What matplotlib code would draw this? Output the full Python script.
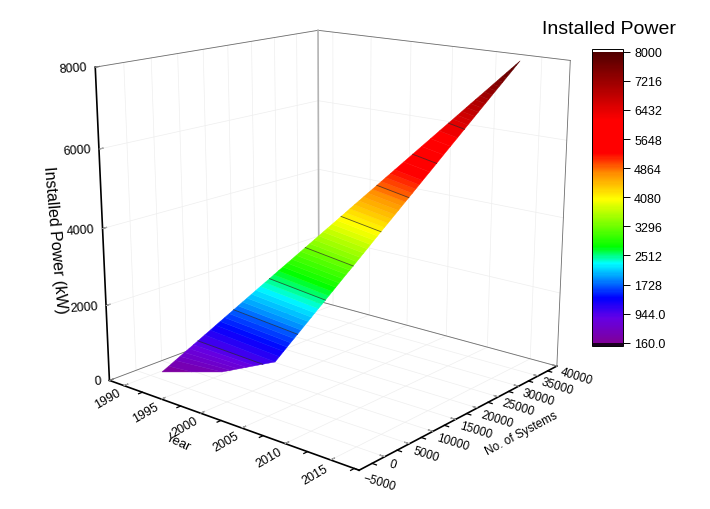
import matplotlib
matplotlib.use('Agg')
import matplotlib.pyplot as plt
from matplotlib.colors import LinearSegmentedColormap, Normalize
from matplotlib.cm import ScalarMappable
import numpy as np

# Data
power = [160, 305, 450, 552, 650, 748, 846, 944, 1093, 1214, 1336, 1434, 1532, 1630, 1728, 1826, 1924, 2022, 2120,
         2218, 2316, 2414, 2512, 2610, 2708, 2806, 2904, 3002, 3100, 3198, 3296, 3394, 3492, 3590, 3688, 3786,
         3884, 3982, 4080, 4178, 4276, 4374, 4472, 4570, 4668, 4766, 4864, 4962, 5060, 5158, 5256, 5452, 5648,
         5844, 6040, 6236, 6432, 6530, 6628, 6726, 6824, 6922, 7020, 7118, 7216, 7314, 7412, 7510, 7608, 7706,
         7804, 7902, 8000]
year_left = [1991.30, 1991.71, 1992.12, 1992.41, 1992.69, 1992.97, 1993.25, 1993.53, 1993.95, 1994.30, 1994.64,
             1994.92, 1995.20, 1995.48, 1995.76, 1996.04, 1996.32, 1996.60, 1996.88, 1997.16, 1997.44, 1997.73,
             1998.01, 1998.29, 1998.57, 1998.86, 1999.14, 1999.43, 1999.71, 2000.00, 2000.28, 2000.57, 2000.85,
             2001.14, 2001.42, 2001.71, 2002.00, 2002.29, 2002.57, 2002.86, 2003.14, 2003.43, 2003.72, 2004.01,
             2004.30, 2004.60, 2004.89, 2005.18, 2005.47, 2005.77, 2006.06, 2006.65, 2007.24, 2007.84, 2008.44,
             2009.04, 2009.65, 2009.96, 2010.26, 2010.57, 2010.87, 2011.18, 2011.49, 2011.81, 2012.12, 2012.44,
             2012.75, 2013.07, 2013.38, 2013.71, 2014.03, 2014.36, 2014.68]
systems_left = [424, 1149, 1871, 2378, 2864, 3350, 3836, 4322, 5056, 5655, 6254, 6734, 7214, 7694, 8174, 8651, 9127,
                9604, 10080, 10553, 11026, 11499, 11972, 12441, 12909, 13378, 13847, 14311, 14775, 15240, 15704,
                16163, 16622, 17082, 17541, 17995, 18448, 18902, 19355, 19802, 20249, 20697, 21144, 21584, 22024,
                22464, 22904, 23336, 23768, 24200, 24632, 25477, 26323, 27147, 27971, 28771, 29571, 29957, 30342,
                30728, 31114, 31483, 31852, 32222, 32591, 32941, 33290, 33640, 33989, 34315, 34641, 34967, 35293]
year_right = [1991.30, 1994.41, 1997.52, 1998.50, 1999.44, 2000.38, 2001.32, 2002.26, 2003.68, 2003.88, 2004.08,
              2004.24, 2004.40, 2004.57, 2004.73, 2004.89, 2005.05, 2005.22, 2005.38, 2005.54, 2005.70, 2005.87,
              2006.03, 2006.19, 2006.35, 2006.51, 2006.67, 2006.83, 2006.99, 2007.16, 2007.32, 2007.48, 2007.64,
              2007.80, 2007.96, 2008.12, 2008.27, 2008.43, 2008.59, 2008.75, 2008.91, 2009.07, 2009.23, 2009.39,
              2009.54, 2009.70, 2009.86, 2010.02, 2010.17, 2010.33, 2010.48, 2010.80, 2011.11, 2011.41, 2011.72,
              2012.03, 2012.33, 2012.48, 2012.63, 2012.78, 2012.93, 2013.08, 2013.23, 2013.38, 2013.52, 2013.67,
              2013.82, 2013.97, 2014.11, 2014.26, 2014.40, 2014.54, 2014.68]
systems_right = [424, 1685, 2946, 3089, 3200, 3311, 3423, 3534, 3658, 4188, 4718, 5147, 5575, 6004, 6432, 6862, 7291,
                 7721, 8151, 8582, 9013, 9445, 9876, 10309, 10741, 11174, 11607, 12042, 12476, 12911, 13345, 13782,
                 14218, 14655, 15091, 15530, 15968, 16407, 16846, 17287, 17728, 18169, 18610, 19054, 19498, 19943,
                 20387, 20834, 21281, 21729, 22176, 23078, 23980, 24890, 25801, 26721, 27642, 28108, 28574, 29041,
                 29507, 29980, 30453, 30927, 31400, 31882, 32363, 32845, 33326, 33818, 34309, 34801, 35293]

contour_levels = [944, 1728, 2512, 3296, 4080, 4864, 5648, 6432]
bar_ticks = [160, 944, 1728, 2512, 3296, 4080, 4864, 5648, 6432, 7216, 8000]
bar_labels = ['160.0', '944.0', '1728', '2512', '3296', '4080', '4864', '5648', '6432', '7216', '8000']

year_lim = (1988, 2018)
systems_lim = (-5000, 40000)
power_lim = (0, 8000)
year_ticks = [1990, 1995, 2000, 2005, 2010, 2015]
year_minor = [1992.5, 1997.5, 2002.5, 2007.5, 2012.5, 2017.5]
systems_ticks = [-5000, 0, 5000, 10000, 15000, 20000, 25000, 30000, 35000, 40000]
systems_minor = [-2500, 2500, 7500, 12500, 17500, 22500, 27500, 32500, 37500]
power_ticks = [0, 2000, 4000, 6000, 8000]

cmap_levels = [160, 280, 820, 1353, 2290, 2735, 4025, 4735, 5270, 6165, 8000]
cmap_colors = ['#80009a', '#7a00a8', '#6400e6', '#0000ff', '#00ffff', '#00ff00',
               '#ffff00', '#ff8c00', '#ff0000', '#ff0000', '#500000']

plt.rcParams['font.family'] = 'Liberation Sans'

norm = Normalize(160, 8000)
stops = [(v - 160) / 7840 for v in cmap_levels]
cmap = LinearSegmentedColormap.from_list('power', list(zip(stops, cmap_colors)), N=256)
cmap.set_over('white')
cmap.set_under('#1a0020')

W, H = 710, 510
fig = plt.figure(figsize=(W / 100, H / 100), dpi=100)

# Graphing
ax = fig.add_axes([55.4 / W, 5.3 / H, 546.5 / W, 546.5 / H], projection='3d')
ax.set_facecolor('none')
ax.computed_zorder = False
ax.view_init(elev=15.62, azim=-49.99)
ax.set_proj_type('persp', focal_length=0.489)
ax.set_box_aspect((1, 0.999, 0.981))
ax.set_xlim(*year_lim)
ax.set_ylim(*systems_lim)
ax.set_zlim(*power_lim)
ax.grid(False)

x0, x1 = year_lim
y0, y1 = systems_lim
z0, z1 = power_lim

# faint grid at the major ticks only, not over the black axes
grid = dict(color='#eeeeee', lw=0.5, zorder=0)
for x in year_ticks:
    ax.plot([x, x], [y0, y1], [z0, z0], **grid)
    ax.plot([x, x], [y1, y1], [z0, z1], **grid)
for y in systems_ticks:
    if y == y0:
        continue
    ax.plot([x0, x1], [y, y], [z0, z0], **grid)
    ax.plot([x0, x0], [y, y], [z0, z1], **grid)
for z in power_ticks:
    ax.plot([x0, x1], [y1, y1], [z, z], **grid)
    ax.plot([x0, x0], [y0, y1], [z, z], **grid)

# box edges behind the surface
edge = dict(color='#6e6e6e', lw=0.6, zorder=1)
ax.plot([x0, x0], [y0, y1], [z0, z0], **edge)
ax.plot([x0, x1], [y1, y1], [z0, z0], **edge)
ax.plot([x0, x0], [y0, y1], [z1, z1], **edge)
ax.plot([x0, x1], [y1, y1], [z1, z1], **edge)
ax.plot([x1, x1], [y1, y1], [z0, z1], **edge)
ax.plot([x0, x0], [y1, y1], [z0, z1], color='#b4b4b4', lw=1.2, zorder=1)

X = np.array([year_left, year_right]).T
Y = np.array([systems_left, systems_right]).T
Z = np.array([power, power]).T
surf = ax.plot_surface(X, Y, Z, cmap=cmap, norm=norm, rstride=1, cstride=1, shade=False,
                       linewidth=0.3, antialiased=True, zorder=3)
surf.set_edgecolor('face')

for lev in contour_levels:
    i = power.index(lev)
    ax.plot(X[i], Y[i], Z[i], color='#202020', lw=0.6, alpha=0.7, zorder=4)

# short minor ticks on the two floor axes
for x in year_minor:
    ax.plot([x, x], [y0, y0 - 700], [z0, z0], color='black', lw=0.9, zorder=2)
for y in systems_minor:
    ax.plot([x1, x1 + 0.45], [y, y], [z0, z0], color='black', lw=0.9, zorder=2)

# Graph UI
ax.set_xticks(year_ticks)
ax.set_yticks(systems_ticks)
ax.set_zticks(power_ticks)
ax.zaxis.set_ticks_position('lower')

ax.tick_params(axis='x', labelsize=9, labelrotation=30, pad=-4.8)
ax.tick_params(axis='y', labelsize=8.5, labelrotation=-17, pad=-5)
ax.tick_params(axis='z', labelsize=9, labelrotation=4, pad=-4.5)

for axis in (ax.xaxis, ax.yaxis, ax.zaxis):
    axis.set_pane_color((1, 1, 1, 0))
    axis.pane.set_edgecolor((1, 1, 1, 0))
    axis.line.set_color('black')
    axis.line.set_linewidth(1.2)
    axis._axinfo['tick']['inward_factor'] = 0
    axis._axinfo['tick']['outward_factor'] = 0.2

for lab in ax.get_xticklabels():
    lab.set(ha='right', va='center', rotation_mode='anchor')
for lab in ax.get_yticklabels():
    lab.set(ha='left', va='center', rotation_mode='anchor')
for lab in ax.get_zticklabels():
    lab.set(ha='right', va='center', rotation_mode='anchor')

fig.text(178 / W, 1 - 443 / H, 'Year', fontsize=9.5, rotation=-25, ha='center', va='center')
fig.text(521 / W, 1 - 434 / H, 'No. of Systems', fontsize=8.5, rotation=28, ha='center', va='center')
fig.text(55 / W, 1 - 240 / H, 'Installed Power (kW)', fontsize=11.5, rotation=-85, ha='center', va='center')

# Colour bar
cax = fig.add_axes([592 / W, 163 / H, 31 / W, 297.5 / H])
cbar = fig.colorbar(ScalarMappable(norm=norm, cmap=cmap), cax=cax, extend='both', extendrect=True,
                    extendfrac=0.011, ticks=bar_ticks)
cbar.ax.set_yticklabels(bar_labels)
cbar.ax.tick_params(labelsize=9, length=5, width=0.7, pad=3)
cbar.ax.minorticks_off()
cbar.outline.set_linewidth(0.7)
fig.text(608.5 / W, 1 - 30 / H, 'Installed Power', fontsize=14, ha='center', va='center')

fig.savefig('out.png', dpi=100)
